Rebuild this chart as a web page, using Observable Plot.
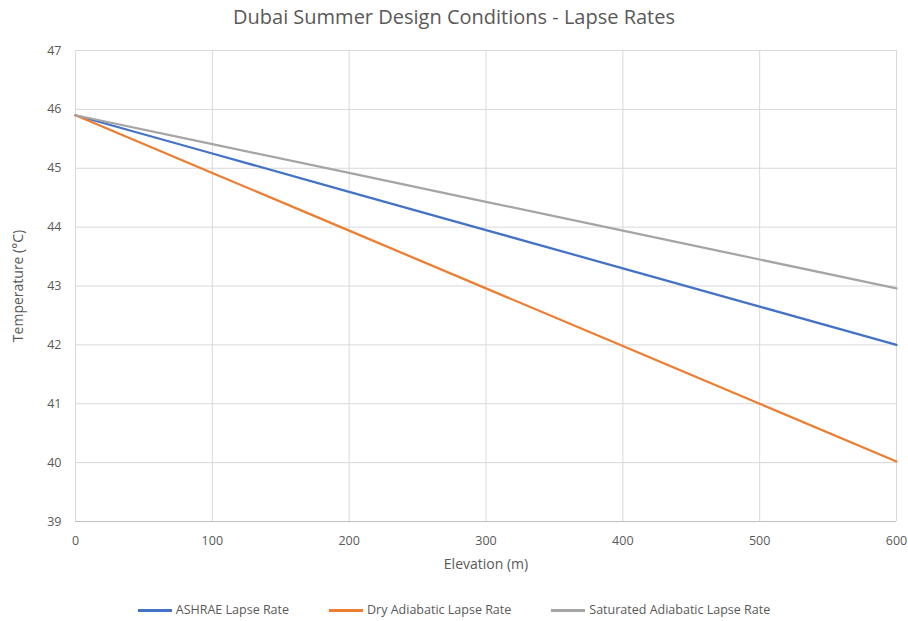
<!DOCTYPE html>
<html>
<head>
<meta charset="utf-8">
<script src="https://cdn.jsdelivr.net/npm/d3@7"></script>
<script src="https://cdn.jsdelivr.net/npm/@observablehq/plot@0.6"></script>
<style>
  body { margin: 0; background: #fff; font-family: "Open Sans", sans-serif; }
  #wrap { width: 908px; height: 621px; position: relative; }
  #title { height: 35px; line-height: 34px; text-align: center; font-size: 20px; color: #595959; }
  #legend { display: flex; justify-content: center; gap: 40px; font-size: 12.5px; color: #595959; margin-top: 14px; }
  #legend span.sw { display: inline-block; width: 34px; height: 3px; vertical-align: middle; margin-right: 4px; }
</style>
</head>
<body>
<div id="wrap">
  <div id="title">Dubai Summer Design Conditions - Lapse Rates</div>
  <div id="chart"></div>
  <div id="legend"></div>
</div>
<script>
const elevations = [0, 100, 200, 300, 400, 500, 600];
const ashrae = [45.9, 45.25, 44.6, 43.95, 43.3, 42.65, 42.0];
const dryAdiabatic = [45.9, 44.92, 43.94, 42.96, 41.98, 41.0, 40.02];
const saturatedAdiabatic = [45.9, 45.41, 44.92, 44.43, 43.94, 43.45, 42.96];
const seriesNames = ["ASHRAE Lapse Rate", "Dry Adiabatic Lapse Rate", "Saturated Adiabatic Lapse Rate"];
const seriesColors = ["#4472C4", "#ED7D31", "#A5A5A5"];
const xTicks = [0, 100, 200, 300, 400, 500, 600];
const yTicks = [39, 40, 41, 42, 43, 44, 45, 46, 47];

const seriesValues = [ashrae, dryAdiabatic, saturatedAdiabatic];
const data = [];
seriesNames.forEach((name, i) => {
  elevations.forEach((e, j) => data.push({series: name, elevation: e, temp: seriesValues[i][j]}));
});

const plot = Plot.plot({
  width: 908,
  height: 552,
  marginLeft: 75,
  marginRight: 12,
  marginTop: 15,
  marginBottom: 66,
  style: {fontFamily: "Open Sans, sans-serif", fontSize: "12px", color: "#595959", overflow: "visible"},
  x: {domain: [0, 600], ticks: xTicks, label: null},
  y: {domain: [39, 47], ticks: yTicks, label: null},
  color: {domain: seriesNames, range: seriesColors},
  marks: [
    Plot.gridX(xTicks, {stroke: "#d9d9d9", strokeOpacity: 1, strokeWidth: 1}),
    Plot.gridY(yTicks, {stroke: "#d9d9d9", strokeOpacity: 1, strokeWidth: 1}),
    Plot.ruleY([39], {stroke: "#bfbfbf", strokeWidth: 1}),
    Plot.axisX({ticks: xTicks, tickSize: 0, tickPadding: 15, fontSize: 12.5, label: null, fill: "#595959"}),
    Plot.axisY({ticks: yTicks, tickSize: 0, tickPadding: 14, fontSize: 12.5, label: null, fill: "#595959"}),
    Plot.text(["Elevation (m)"], {frameAnchor: "bottom", textAnchor: "middle", dy: 47, fontSize: 14, fill: "#595959"}),
    Plot.text(["Temperature (°C)"], {frameAnchor: "left", textAnchor: "middle", dx: -57, rotate: -90, fontSize: 14, fill: "#595959"}),
    Plot.line(data, {x: "elevation", y: "temp", z: "series", stroke: "series", strokeWidth: 2.25})
  ]
});
document.getElementById("chart").appendChild(plot);

const legend = document.getElementById("legend");
seriesNames.forEach((n, i) => {
  const d = document.createElement("div");
  d.innerHTML = `<span class="sw" style="background:${seriesColors[i]}"></span>${n}`;
  legend.appendChild(d);
});
</script>
</body>
</html>
